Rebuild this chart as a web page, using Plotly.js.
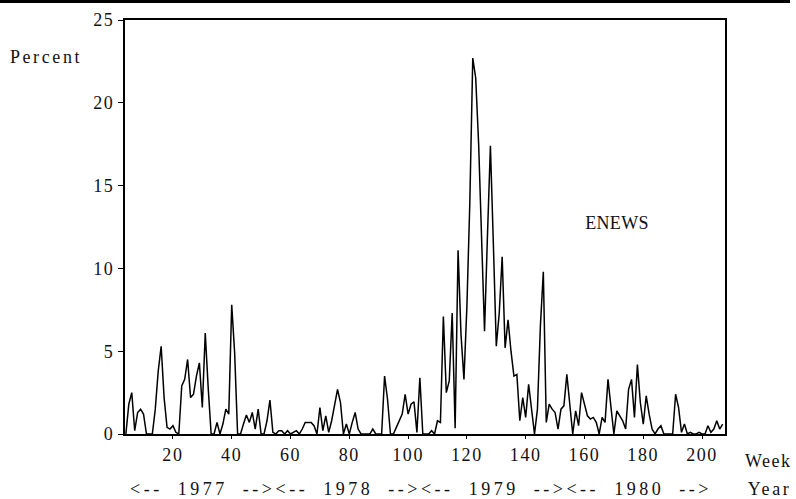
<!DOCTYPE html>
<html>
<head>
<meta charset="utf-8">
<script src="https://cdn.plot.ly/plotly-3.0.1.min.js"></script>
<style>
  html, body { margin: 0; padding: 0; background: #fff; }
  #chart { width: 796px; height: 499px; }
  #chart .xtick text, #chart .ytick text { letter-spacing: 1.6px; }
  #chart g.annotation text { white-space: pre; }
  #chart g.annotation[data-index="0"] text { letter-spacing: 2.6px; }
  #chart g.annotation[data-index="1"] text { letter-spacing: 1.5px; }
  #chart g.annotation[data-index="2"] text { letter-spacing: 2.6px; }
  #chart g.annotation[data-index="3"] text { letter-spacing: 0.3px; }
  #chart g.annotation[data-index="4"] text { letter-spacing: 3.5px; }
</style>
</head>
<body>
<div id="chart"></div>
<script>
// ---- data ----
const firstWeek = 4;
const enews = [
  0,1.8,2.5,0.2,1.3,1.5,1.2,0,0,0,
  1.5,3.8,5.3,2.2,0.4,0.3,0.5,0.1,0,2.9,
  3.3,4.5,2.2,2.4,3.5,4.3,1.6,6.1,2.8,0,
  0,0.7,0,0.6,1.5,1.2,7.8,4.9,0,0,
  0.6,1.15,0.7,1.3,0.3,1.5,0,0,0.8,2.05,
  0.1,0,0.2,0.2,0,0.2,0,0.1,0.2,0,
  0.3,0.7,0.7,0.7,0.5,0,1.6,0.2,1.1,0.1,
  0.8,1.8,2.7,1.9,0,0.6,0,0.7,1.3,0.3,
  0,0,0,0,0.3,0,0,0,3.5,2.1,
  0,0,0.4,0.8,1.2,2.4,1.2,1.8,1.95,0.1,
  3.4,0,0,0,0.2,0,0.8,0.7,7.1,2.5,
  3.2,7.3,0.35,11.1,6.0,3.3,7.7,14,22.7,21.5,
  17.5,11.2,6.2,12,17.4,11.5,5.3,7.3,10.7,5.2,
  6.9,5.0,3.5,3.6,0.8,2.2,1.0,3.0,1.5,0,
  1.5,6.5,9.8,0.7,1.8,1.5,1.3,0.3,1.5,1.7,
  3.6,1.7,0,1.4,0.5,2.5,1.7,1.1,0.9,1.0,
  0.7,0,1.0,0.7,3.3,1.7,0,1.4,1.1,0.8,
  0.3,2.7,3.3,1.0,4.2,1.9,0.6,2.3,1.2,0.3,
  0,0.3,0.5,0,0,0,0,2.4,1.6,0.1,
  0.6,0,0.1,0,0,0.1,0,0,0.5,0.1,
  0.3,0.8,0.3,0.6
];
const xTickVals = [20,40,60,80,100,120,140,160,180,200];
const yTickVals = [0,5,10,15,20,25];
const years = ['1977','1978','1979','1980'];
const seriesName = 'ENEWS';

const weeks = enews.map((v, i) => firstWeek + i);
const SP = '\u00a0\u2009';
const yearRow = years.map(y => '&lt;--' + SP + y + SP + '--&gt;').join('');

// ---- layout helpers ----
const FONT = 'Liberation Serif, Times New Roman, serif';
const L = 125, R = 725, T = 20, B = 434;
const px = x => (x - L) / (R - L);
const py = y => (B - y) / (B - T);

const annotations = [
  {text: 'Percent', x: px(46), y: py(57), size: 18},
  {text: 'Week', x: px(768), y: py(461), size: 18},
  {text: 'Year', x: px(769), y: py(489), size: 18},
  {text: seriesName, x: px(616.5), y: py(223.5), size: 18},
  {text: yearRow, x: px(421), y: py(489), size: 18}
].map(a => ({
   text: a.text, x: a.x, y: a.y, xref: 'paper', yref: 'paper',
   xanchor: 'center', yanchor: 'middle', showarrow: false,
   font: {family: FONT, size: a.size, color: '#111'}
 }));

const trace = {
  x: weeks, y: enews, type: 'scatter', mode: 'lines',
  line: {color: '#000', width: 1.5},
  hoverinfo: 'skip', showlegend: false
};

const layout = {
  width: 796, height: 499,
  margin: {l: L, r: 796 - R, t: T, b: 499 - B, pad: 0},
  paper_bgcolor: '#fff', plot_bgcolor: '#fff',
  showlegend: false,
  xaxis: {
    range: [3.7, 207.8], tickvals: xTickVals, ticktext: xTickVals.map(String),
    showgrid: false, zeroline: false,
    showline: true, mirror: true, linecolor: '#000', linewidth: 2,
    ticks: 'outside', ticklen: 3, tickwidth: 1, tickcolor: '#000',
    tickfont: {family: FONT, size: 18, color: '#111'}
  },
  yaxis: {
    range: [0, 25], tickvals: yTickVals, ticktext: yTickVals.map(String),
    showgrid: false, zeroline: false,
    showline: true, mirror: true, linecolor: '#000', linewidth: 2,
    ticks: 'outside', ticklen: 5, tickwidth: 1, tickcolor: '#000',
    tickfont: {family: FONT, size: 18, color: '#111'}
  },
  annotations: annotations,
  shapes: [{
    type: 'line', xref: 'paper', yref: 'paper',
    x0: px(0), x1: px(790), y0: py(1.5), y1: py(1.5),
    line: {color: '#000', width: 3}
  }]
};

Plotly.newPlot('chart', [trace], layout, {staticPlot: true, displayModeBar: false});
</script>
</body>
</html>
